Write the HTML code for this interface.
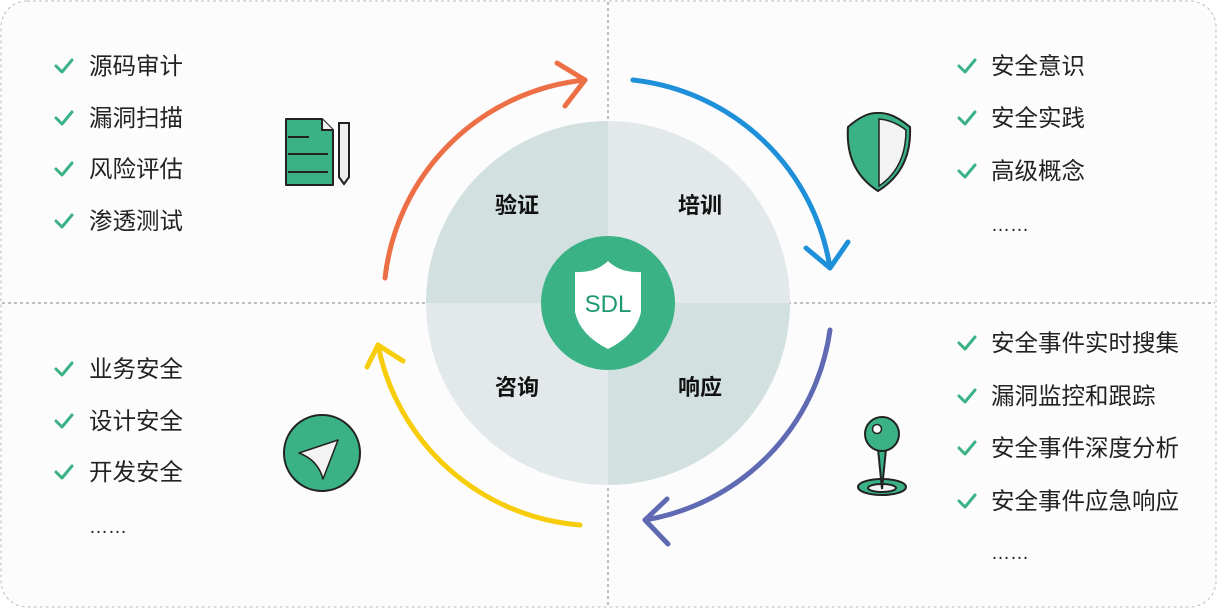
<!DOCTYPE html>
<html><head><meta charset="utf-8"><style>
body{margin:0;background:#fff;}
svg text{font-family:"Liberation Sans","Noto Sans CJK SC",sans-serif;}
</style></head><body>
<svg width="1217" height="608" viewBox="0 0 1217 608" xmlns="http://www.w3.org/2000/svg">
<defs><path id="ck" d="M0,0 L6,6 L16,-6" fill="none" stroke="#3bb286" stroke-width="3" stroke-linecap="round" stroke-linejoin="round"/></defs>
<rect x="1" y="1" width="1215" height="606" rx="26" fill="#fcfcfd" stroke="#bdbdbd" stroke-dasharray="3,3"/>
<line x1="608" y1="2" x2="608" y2="606" stroke="#aaa" stroke-dasharray="3,3" stroke-width="1.5"/>
<line x1="2" y1="303" x2="1215" y2="303" stroke="#aaa" stroke-dasharray="3,3" stroke-width="1.5"/>
<path d="M608,303 L426,303 A182,182 0 0 1 608,121 Z" fill="#d2e0e0"/>
<path d="M608,303 L608,121 A182,182 0 0 1 790,303 Z" fill="#e3e9ea"/>
<path d="M608,303 L790,303 A182,182 0 0 1 608,485 Z" fill="#d2e0e0"/>
<path d="M608,303 L608,485 A182,182 0 0 1 426,303 Z" fill="#e3e9ea"/>
<circle cx="608" cy="303" r="67" fill="#3bb286"/>
<path d="M608,261 Q596,273 575,272 L575,312 Q580,335 608,349 Q636,335 641,312 L641,272 Q620,273 608,261 Z" fill="#fff"/>
<text x="608" y="312" font-size="24" fill="#1f9a6e" text-anchor="middle">SDL</text>
<g font-size="22" font-weight="bold" fill="#111" text-anchor="middle">
<text x="517" y="213">验证</text><text x="700" y="213">培训</text>
<text x="517" y="395">咨询</text><text x="700" y="395">响应</text>
</g>
<g fill="none" stroke-width="5" stroke-linecap="round" stroke-linejoin="round">
<path d="M385,278 A224,224 0 0 1 585,80" stroke="#ec6f45"/>
<path d="M557,63 L585,80 L565,106" stroke="#ec6f45"/>
<path d="M633,80 A224,224 0 0 1 830,268" stroke="#1e8fd9"/>
<path d="M806,248 L830,268 L848,242" stroke="#1e8fd9"/>
<path d="M830,330 A224,224 0 0 1 645,520" stroke="#5f6ab3"/>
<path d="M667,499 L645,520 L668,544" stroke="#5f6ab3"/>
<path d="M580,525 A224,224 0 0 1 378,345" stroke="#f7cd0a"/>
<path d="M367,367 L378,345 L403,361" stroke="#f7cd0a"/>
</g>
<g stroke="#222" stroke-width="2">
<path d="M286,119 L322,119 L333,130 L333,185 L286,185 Z" fill="#3bb286" stroke-linejoin="round"/>
<path d="M322,119 L322,130 L333,130" fill="#f3f3f3"/>
<line x1="288" y1="137" x2="309" y2="137"/><line x1="288" y1="154" x2="328" y2="154"/><line x1="288" y1="172" x2="328" y2="172"/>
<path d="M339,123 L349,123 L349,177 L344,184 L339,177 Z" fill="#eee"/>
</g>
<path d="M848,127 Q865,112 878,113 Q892,112 910,127 Q912,170 878,191 Q845,170 848,127 Z" fill="#3bb286" stroke="#222" stroke-width="2"/>
<path d="M879,119 Q893,120 906,130 Q906,168 879,186 Z" fill="#f3f3f3" stroke="#222" stroke-width="1.5"/>
<circle cx="322" cy="453" r="38" fill="#3bb286" stroke="#222" stroke-width="2"/>
<path d="M299,453 L338,440 L323,479 Q318,460 299,453 Z" fill="#f3f3f3" stroke="#222" stroke-width="1.5" stroke-linejoin="round"/>
<g stroke="#222" stroke-width="2">
<ellipse cx="882" cy="487" rx="24" ry="8" fill="#3bb286"/>
<ellipse cx="882" cy="488" rx="14" ry="4" fill="#f3f3f3"/>
<path d="M878,449 L882,489 L886,449 Z" fill="#3bb286"/>
<circle cx="882" cy="434" r="17" fill="#3bb286"/>
<circle cx="877" cy="429" r="4.5" fill="#fff" stroke-width="1.5"/>
</g>
<use href="#ck" x="56" y="66"/><use href="#ck" x="56" y="118"/><use href="#ck" x="56" y="169"/><use href="#ck" x="56" y="221"/>
<use href="#ck" x="56" y="369"/><use href="#ck" x="56" y="421"/><use href="#ck" x="56" y="472"/>
<use href="#ck" x="959" y="66"/><use href="#ck" x="959" y="118"/><use href="#ck" x="959" y="171"/>
<use href="#ck" x="959" y="343"/><use href="#ck" x="959" y="396"/><use href="#ck" x="959" y="448"/><use href="#ck" x="959" y="501"/>
<g font-size="23.5" fill="#222">
<text x="89" y="74">源码审计</text><text x="89" y="126">漏洞扫描</text><text x="89" y="177">风险评估</text><text x="89" y="229">渗透测试</text>
<text x="89" y="377">业务安全</text><text x="89" y="429">设计安全</text><text x="89" y="480">开发安全</text><text x="89" y="533" font-size="19">……</text>
<text x="991" y="74">安全意识</text><text x="991" y="126">安全实践</text><text x="991" y="179">高级概念</text><text x="991" y="231" font-size="19">……</text>
<text x="991" y="351">安全事件实时搜集</text><text x="991" y="404">漏洞监控和跟踪</text><text x="991" y="456">安全事件深度分析</text><text x="991" y="509">安全事件应急响应</text><text x="991" y="559" font-size="19">……</text>
</g>
</svg>
</body></html>
